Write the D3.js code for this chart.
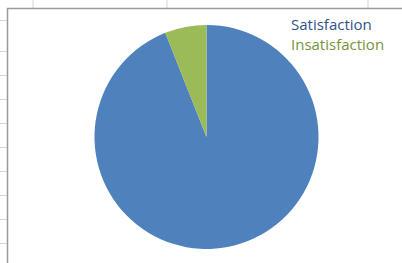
<!DOCTYPE html>
<html>
<head>
<meta charset="utf-8">
<script src="https://cdn.jsdelivr.net/npm/d3@7"></script>
<style>
  body { margin: 0; background: #fff; }
  svg { display: block; }
</style>
</head>
<body>
<div id="chart"></div>
<script>
const categories = ["Satisfaction", "Insatisfaction"];
const values = [94, 6];
const colors = ["#4F81BD", "#9BBB59"];
const legendColors = ["#2F5289", "#77933C"];

// background sheet grid (row / column lines behind the chart)
const colLines = [33, 167, 368];
const rowLines = [20, 51, 75, 99, 123, 147, 171, 195, 219, 243];

const width = 402, height = 263;
const svg = d3.select("#chart").append("svg")
    .attr("width", width)
    .attr("height", height);

svg.selectAll(".col").data(colLines).enter().append("line")
    .attr("x1", d => d).attr("x2", d => d)
    .attr("y1", 0).attr("y2", 8)
    .attr("stroke", "#d4d4d4").attr("stroke-width", 1);

svg.selectAll(".row").data(rowLines).enter().append("line")
    .attr("x1", 0).attr("x2", 7)
    .attr("y1", d => d + 0.5).attr("y2", d => d + 0.5)
    .attr("stroke", "#d4d4d4").attr("stroke-width", 1);

// chart area border
svg.append("path")
    .attr("d", `M7.5,${height} L7.5,8.5 L${width},8.5`)
    .attr("fill", "none")
    .attr("stroke", "#9a9a9a")
    .attr("stroke-width", 1.5);

const cx = 206.5, cy = 137, r = 112;

const pie = d3.pie().sort(null).value(d => d);
const arc = d3.arc().innerRadius(0).outerRadius(r);

const g = svg.append("g").attr("transform", `translate(${cx},${cy})`);

g.selectAll("path").data(pie(values)).enter().append("path")
    .attr("d", arc)
    .attr("fill", (d, i) => colors[i]);

const legend = svg.append("g").attr("transform", "translate(291,0)");
legend.selectAll("text").data(categories).enter().append("text")
    .attr("x", 0)
    .attr("y", (d, i) => 30 + i * 20)
    .attr("fill", (d, i) => legendColors[i])
    .style("font-family", "'Open Sans', sans-serif")
    .style("font-size", "15px")
    .text(d => d);
</script>
</body>
</html>
